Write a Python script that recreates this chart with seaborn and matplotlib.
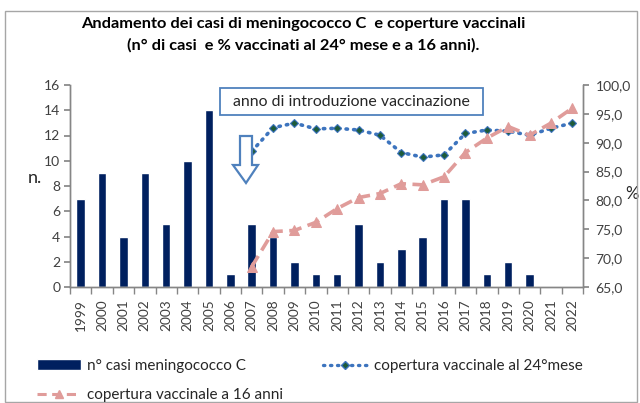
import numpy as np
import pandas as pd
import matplotlib
matplotlib.use("Agg")
import matplotlib.pyplot as plt
import seaborn as sns
from matplotlib.patches import Rectangle, Polygon
from matplotlib.lines import Line2D
from matplotlib.ticker import FuncFormatter, FixedLocator

# Data
years = [str(y) for y in range(1999, 2023)]
cases = [7, 9, 4, 9, 5, 10, 14, 1, 5, 4, 2, 1, 1, 5, 2, 3, 4, 7, 7, 1, 2, 1, 0, 0]
cov_24m = [np.nan] * 8 + [88.5, 92.6, 93.4, 92.4, 92.5, 92.2, 91.3, 88.3, 87.5,
                          87.9, 91.6, 92.2, 92.0, 91.3, 92.5, 93.4]
cov_16y = [np.nan] * 8 + [68.5, 74.6, 74.8, 76.2, 78.6, 80.5, 81.2, 82.9, 82.7,
                          84.1, 88.3, 90.8, 92.8, 91.3, 93.4, 96.0]

df = pd.DataFrame({"anno": years, "casi": cases, "cov24": cov_24m, "cov16": cov_16y})
df["pos"] = np.arange(len(df))

navy = "#00205F"
blue = "#3D74BE"
pink = "#E09C9A"
grey = "#868686"

sns.set_theme(style="white")
plt.rcParams["font.family"] = ["Lato", "DejaVu Sans"]
plt.rcParams["text.color"] = "#262626"

W, H = 640, 403
fig = plt.figure(figsize=(W / 100, H / 100), dpi=100)


def fx(x):
    return x / W


def fy(y):
    return 1 - y / H


ax = fig.add_axes([fx(70), fy(287), fx(583) - fx(70), fy(85) - fy(287)])
sns.barplot(data=df, x="anno", y="casi", order=years, color=navy, saturation=1,
            width=0.4, ax=ax)
ax.set_ylim(0, 16)
ax.set_yticks(range(0, 17, 2))
ax.set_xlabel("")
ax.set_ylabel("n.", rotation=0, fontsize=13)
ax.yaxis.set_label_coords(-0.068, 0.50)

ax2 = ax.twinx()
sns.lineplot(data=df, x="pos", y="cov24", ax=ax2, color=blue, linewidth=2.6,
             linestyle=(0, (0.4, 1.7)), dash_capstyle="round",
             marker="D", markersize=4.5, markerfacecolor="#1D5B3A",
             markeredgecolor=blue, markeredgewidth=0.8)
sns.lineplot(data=df, x="pos", y="cov16", ax=ax2, color=pink, linewidth=2.6,
             linestyle=(0, (3.5, 1.8)), marker="^", markersize=6.5,
             markerfacecolor=pink, markeredgecolor=pink)
ax2.set_ylim(65, 100)
ax2.set_yticks(np.arange(65, 100.1, 5))
ax2.yaxis.set_major_formatter(FuncFormatter(lambda v, p: f"{v:.1f}".replace(".", ",")))
ax2.set_xlabel("")
ax2.set_ylabel("%", rotation=0, fontsize=12)
ax2.yaxis.set_label_coords(1.096, 0.50)
ax.set_xlim(-0.5, len(years) - 0.5)

# spines and ticks
for a in (ax, ax2):
    for s in a.spines.values():
        s.set_color(grey)
        s.set_linewidth(1.0)
    a.spines["top"].set_visible(False)
ax.tick_params(axis="y", direction="out", length=4, color=grey, labelsize=10,
               labelcolor="#404040", pad=3, left=True)
ax2.tick_params(axis="y", direction="out", length=4, color=grey, labelsize=10,
                labelcolor="#404040", pad=5, right=True)
ax.xaxis.set_minor_locator(FixedLocator(np.arange(-0.5, len(years), 1.0)))
ax.tick_params(axis="x", which="major", length=0, labelsize=9.8,
               labelcolor="#404040", rotation=90, pad=9)
ax.tick_params(axis="x", which="minor", direction="out", length=5, color=grey,
               bottom=True)

# annotation box and hollow arrow
fig.patches.append(Rectangle((fx(220), fy(115)), fx(483) - fx(220), fy(88) - fy(115),
                             transform=fig.transFigure, facecolor="white",
                             edgecolor="#4F81BD", linewidth=1.3))
fig.text(fx(351), fy(101.5), "anno di introduzione vaccinazione", ha="center",
         va="center", fontsize=11.4, color="#262626")
arrow_pts = [(240, 136), (252, 136), (252, 165), (258, 165), (246, 183),
             (233, 165), (240, 165)]
fig.patches.append(Polygon([(fx(x), fy(y)) for x, y in arrow_pts], closed=True,
                           transform=fig.transFigure, facecolor="white",
                           edgecolor="#4F81BD", linewidth=1.6))

# title
fig.text(fx(303), fy(35), "Andamento dei casi di meningococco C  e coperture vaccinali\n"
         "(n° di casi  e % vaccinati al 24° mese e a 16 anni).",
         ha="center", va="center", fontsize=11.8, fontweight="bold",
         linespacing=1.65, color="black")

# outer border
fig.patches.append(Rectangle((fx(5), fy(402)), fx(637) - fx(5), fy(11) - fy(402),
                             transform=fig.transFigure, fill=False,
                             edgecolor="#A6A6A6", linewidth=1.0))

# legend
h_bar = Rectangle((0, 0), 1, 1, facecolor=navy)
h_24 = Line2D([], [], color=blue, linewidth=2.4, linestyle=(0, (0.4, 1.7)),
              dash_capstyle="round", marker="D", markersize=4.5,
              markerfacecolor="#1D5B3A", markeredgecolor=blue)
h_16 = Line2D([], [], color=pink, linewidth=2.2, linestyle=(0, (3.0, 1.8)),
              marker="^", markersize=5.5, markerfacecolor=pink, markeredgecolor=pink)
fig.legend([h_bar, h_16, h_24],
           ["n° casi meningococco C", "copertura vaccinale a 16 anni",
            "copertura vaccinale al 24°mese"],
           ncol=2, loc="upper left", bbox_to_anchor=(fx(37), fy(359)),
           frameon=False, fontsize=11, handlelength=2.9, handleheight=0.7,
           handletextpad=0.4, labelspacing=1.0, columnspacing=2.6,
           borderaxespad=0, borderpad=0, numpoints=1)

fig.savefig("out.png", dpi=100)
